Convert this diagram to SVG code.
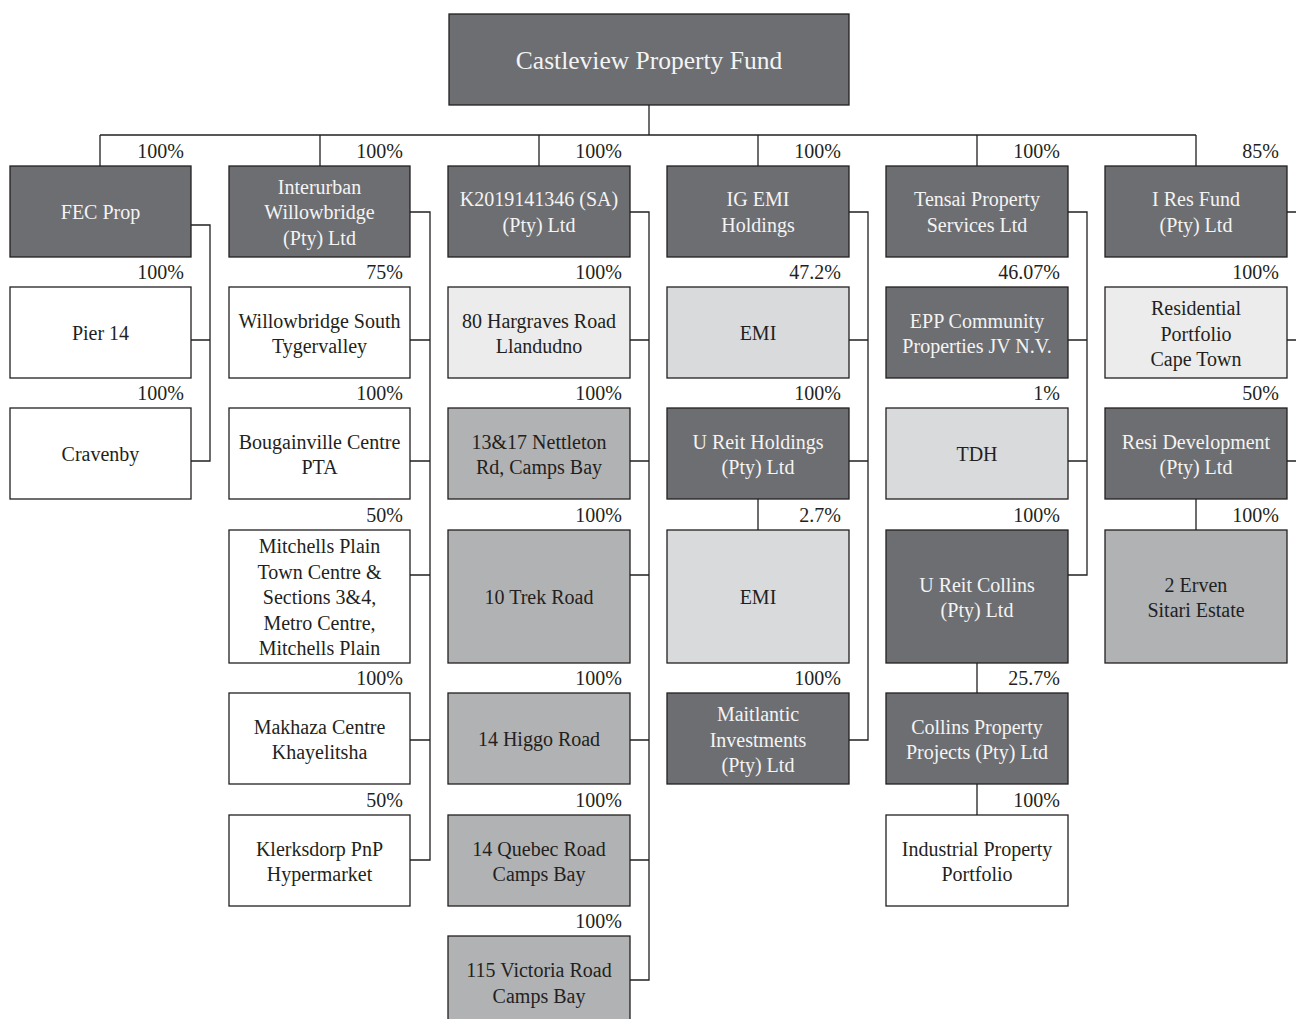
<svg xmlns="http://www.w3.org/2000/svg" width="1296" height="1019" viewBox="0 0 1296 1019">
<style>
  rect{stroke:#231f20;stroke-width:1.3}
  .dk{fill:#6d6e71}
  .wh{fill:#ffffff}
  .vl{fill:#ececec}
  .lt{fill:#d9dadb}
  .md{fill:#b1b2b4}
  text{font-family:"Liberation Serif","Times New Roman",serif;font-size:20px;text-anchor:middle;fill:#231f20}
  .dk + text, text.w{fill:#f4f4f4}
  .pc{text-anchor:end;font-size:20px}
  #connectors path{fill:none;stroke:#231f20;stroke-width:1.3}
</style>
<rect width="1296" height="1019" fill="#ffffff" style="stroke:none"/>
<g id="connectors">
  <path d="M649 105V135M100 135H1196M100 135V166M320 135V166M539 135V166M758 135V166M977 135V166M1196 135V166"/>
  <path d="M191 225H210V461H191M191 340H210"/>
  <path d="M410 212H430V860H410M410 340H430M410 461H430M410 575H430M410 740H430"/>
  <path d="M630 212H649V980H630M630 340H649M630 461H649M630 575H649M630 740H649M630 860H649"/>
  <path d="M849 212H868V740H849M849 340H868M849 461H868M758 499V530"/>
  <path d="M1068 212H1087V575H1068M1068 340H1087M1068 461H1087M977 663V693M977 784V815"/>
  <path d="M1287 212H1306V461H1287M1287 340H1306M1196 499V530"/>
</g>
<g id="n-castleview"><rect class="dk" x="449" y="14" width="400" height="91"/><text class="w" x="649" y="69" style="font-size:25.5px">Castleview Property Fund</text></g>

<g id="n-fec"><rect class="dk" x="10" y="166" width="181" height="91"/><text class="w" x="100.5" y="219">FEC Prop</text></g>
<g id="n-pier14"><rect class="wh" x="10" y="287" width="181" height="91"/><text x="100.5" y="340">Pier 14</text></g>
<g id="n-cravenby"><rect class="wh" x="10" y="408" width="181" height="91"/><text x="100.5" y="461">Cravenby</text></g>

<g id="n-interurban"><rect class="dk" x="229" y="166" width="181" height="91"/><text class="w" x="319.5" y="193.5">Interurban<tspan x="319.5" dy="25.5">Willowbridge</tspan><tspan x="319.5" dy="25.5">(Pty) Ltd</tspan></text></g>
<g id="n-willowbridge"><rect class="wh" x="229" y="287" width="181" height="91"/><text x="319.5" y="327.5">Willowbridge South<tspan x="319.5" dy="25.5">Tygervalley</tspan></text></g>
<g id="n-bougainville"><rect class="wh" x="229" y="408" width="181" height="91"/><text x="319.5" y="448.5">Bougainville Centre<tspan x="319.5" dy="25.5">PTA</tspan></text></g>
<g id="n-mitchells"><rect class="wh" x="229" y="530" width="181" height="133"/><text x="319.5" y="553">Mitchells Plain<tspan x="319.5" dy="25.5">Town Centre &amp;</tspan><tspan x="319.5" dy="25.5">Sections 3&amp;4,</tspan><tspan x="319.5" dy="25.5">Metro Centre,</tspan><tspan x="319.5" dy="25.5">Mitchells Plain</tspan></text></g>
<g id="n-makhaza"><rect class="wh" x="229" y="693" width="181" height="91"/><text x="319.5" y="733.5">Makhaza Centre<tspan x="319.5" dy="25.5">Khayelitsha</tspan></text></g>
<g id="n-klerksdorp"><rect class="wh" x="229" y="815" width="181" height="91"/><text x="319.5" y="855.5">Klerksdorp PnP<tspan x="319.5" dy="25.5">Hypermarket</tspan></text></g>

<g id="n-k2019"><rect class="dk" x="448" y="166" width="182" height="91"/><text class="w" x="539" y="206">K2019141346 (SA)<tspan x="539" dy="25.5">(Pty) Ltd</tspan></text></g>
<g id="n-hargraves"><rect class="vl" x="448" y="287" width="182" height="91"/><text x="539" y="327.5">80 Hargraves Road<tspan x="539" dy="25.5">Llandudno</tspan></text></g>
<g id="n-nettleton"><rect class="md" x="448" y="408" width="182" height="91"/><text x="539" y="448.5">13&amp;17 Nettleton<tspan x="539" dy="25.5">Rd, Camps Bay</tspan></text></g>
<g id="n-trek"><rect class="md" x="448" y="530" width="182" height="133"/><text x="539" y="604">10 Trek Road</text></g>
<g id="n-higgo"><rect class="md" x="448" y="693" width="182" height="91"/><text x="539" y="746">14 Higgo Road</text></g>
<g id="n-quebec"><rect class="md" x="448" y="815" width="182" height="91"/><text x="539" y="855.5">14 Quebec Road<tspan x="539" dy="25.5">Camps Bay</tspan></text></g>
<g id="n-victoria"><rect class="md" x="448" y="936" width="182" height="91"/><text x="539" y="977">115 Victoria Road<tspan x="539" dy="25.5">Camps Bay</tspan></text></g>

<g id="n-igemi"><rect class="dk" x="667" y="166" width="182" height="91"/><text class="w" x="758" y="206">IG EMI<tspan x="758" dy="25.5">Holdings</tspan></text></g>
<g id="n-emi1"><rect class="lt" x="667" y="287" width="182" height="91"/><text x="758" y="340">EMI</text></g>
<g id="n-ureitholdings"><rect class="dk" x="667" y="408" width="182" height="91"/><text class="w" x="758" y="448.5">U Reit Holdings<tspan x="758" dy="25.5">(Pty) Ltd</tspan></text></g>
<g id="n-emi2"><rect class="lt" x="667" y="530" width="182" height="133"/><text x="758" y="604">EMI</text></g>
<g id="n-maitlantic"><rect class="dk" x="667" y="693" width="182" height="91"/><text class="w" x="758" y="721">Maitlantic<tspan x="758" dy="25.5">Investments</tspan><tspan x="758" dy="25.5">(Pty) Ltd</tspan></text></g>

<g id="n-tensai"><rect class="dk" x="886" y="166" width="182" height="91"/><text class="w" x="977" y="206">Tensai Property<tspan x="977" dy="25.5">Services Ltd</tspan></text></g>
<g id="n-epp"><rect class="dk" x="886" y="287" width="182" height="91"/><text class="w" x="977" y="327.5">EPP Community<tspan x="977" dy="25.5">Properties JV N.V.</tspan></text></g>
<g id="n-tdh"><rect class="lt" x="886" y="408" width="182" height="91"/><text x="977" y="461">TDH</text></g>
<g id="n-ureitcollins"><rect class="dk" x="886" y="530" width="182" height="133"/><text class="w" x="977" y="591.5">U Reit Collins<tspan x="977" dy="25.5">(Pty) Ltd</tspan></text></g>
<g id="n-collinsprop"><rect class="dk" x="886" y="693" width="182" height="91"/><text class="w" x="977" y="733.5">Collins Property<tspan x="977" dy="25.5">Projects (Pty) Ltd</tspan></text></g>
<g id="n-industrial"><rect class="wh" x="886" y="815" width="182" height="91"/><text x="977" y="855.5">Industrial Property<tspan x="977" dy="25.5">Portfolio</tspan></text></g>

<g id="n-ires"><rect class="dk" x="1105" y="166" width="182" height="91"/><text class="w" x="1196" y="206">I Res Fund<tspan x="1196" dy="25.5">(Pty) Ltd</tspan></text></g>
<g id="n-residential"><rect class="vl" x="1105" y="287" width="182" height="91"/><text x="1196" y="315">Residential<tspan x="1196" dy="25.5">Portfolio</tspan><tspan x="1196" dy="25.5">Cape Town</tspan></text></g>
<g id="n-residev"><rect class="dk" x="1105" y="408" width="182" height="91"/><text class="w" x="1196" y="448.5">Resi Development<tspan x="1196" dy="25.5">(Pty) Ltd</tspan></text></g>
<g id="n-erven"><rect class="md" x="1105" y="530" width="182" height="133"/><text x="1196" y="591.5">2 Erven<tspan x="1196" dy="25.5">Sitari Estate</tspan></text></g>

<g id="percentages">
  <text class="pc" x="184" y="158">100%</text>
  <text class="pc" x="184" y="279">100%</text>
  <text class="pc" x="184" y="400">100%</text>
  <text class="pc" x="403" y="158">100%</text>
  <text class="pc" x="403" y="279">75%</text>
  <text class="pc" x="403" y="400">100%</text>
  <text class="pc" x="403" y="522">50%</text>
  <text class="pc" x="403" y="685">100%</text>
  <text class="pc" x="403" y="807">50%</text>
  <text class="pc" x="622" y="158">100%</text>
  <text class="pc" x="622" y="279">100%</text>
  <text class="pc" x="622" y="400">100%</text>
  <text class="pc" x="622" y="522">100%</text>
  <text class="pc" x="622" y="685">100%</text>
  <text class="pc" x="622" y="807">100%</text>
  <text class="pc" x="622" y="928">100%</text>
  <text class="pc" x="841" y="158">100%</text>
  <text class="pc" x="841" y="279">47.2%</text>
  <text class="pc" x="841" y="400">100%</text>
  <text class="pc" x="841" y="522">2.7%</text>
  <text class="pc" x="841" y="685">100%</text>
  <text class="pc" x="1060" y="158">100%</text>
  <text class="pc" x="1060" y="279">46.07%</text>
  <text class="pc" x="1060" y="400">1%</text>
  <text class="pc" x="1060" y="522">100%</text>
  <text class="pc" x="1060" y="685">25.7%</text>
  <text class="pc" x="1060" y="807">100%</text>
  <text class="pc" x="1279" y="158">85%</text>
  <text class="pc" x="1279" y="279">100%</text>
  <text class="pc" x="1279" y="400">50%</text>
  <text class="pc" x="1279" y="522">100%</text>
</g>
</svg>
